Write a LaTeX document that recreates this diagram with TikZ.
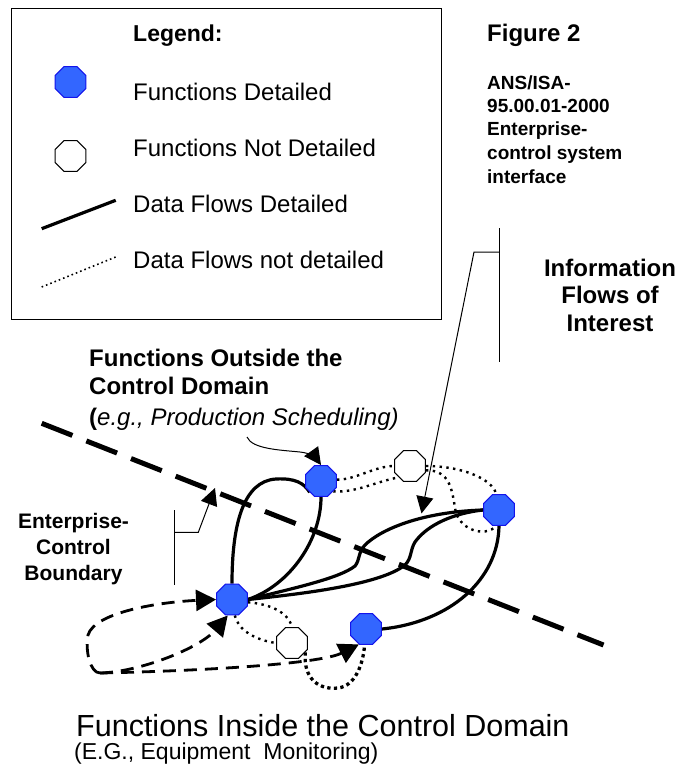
\documentclass[tikz,border=0pt]{standalone}
\usepackage{fontspec}
\setmainfont{Liberation Sans}
\usetikzlibrary{arrows.meta,shapes.geometric}
\pgfdeclarelayer{bg}
\pgfsetlayers{bg,main}
\definecolor{fnblue}{RGB}{51,102,255}
\definecolor{fnedge}{RGB}{20,20,235}
\newcommand\myfs[1]{\fontsize{#1}{#1}\selectfont}
\begin{document}
\begin{tikzpicture}[x=1pt,y=-1pt,
  fdet/.style={regular polygon, regular polygon sides=8, minimum size=33.5pt, inner sep=0pt, fill=fnblue, draw=fnedge, line width=1pt},
  fnot/.style={regular polygon, regular polygon sides=8, minimum size=33.5pt, inner sep=0pt, fill=white, draw=black, line width=1pt},
  solidflow/.style={line width=3.2pt},
  dotflow/.style={line width=2.4pt, dash pattern=on 2.4pt off 4.4pt},
  thickdot/.style={line width=3.3pt, dash pattern=on 3.3pt off 3.3pt},
  dashflow/.style={line width=2.8pt, dash pattern=on 13pt off 8pt},
  boundary/.style={line width=5pt, dash pattern=on 33pt off 15pt},
  pointer/.style={line width=1pt},
  headed/.style={-{Triangle[length=17pt,width=17pt]}},
  bighead/.style={-{Triangle[length=20pt,width=21pt]}},
  lbl/.style={inner sep=0pt, anchor=base west},
  clbl/.style={inner sep=0pt, anchor=base}
]
\useasboundingbox (0,0) rectangle (691,772);

% ---------- legend ----------
\node[draw, line width=1.3pt, minimum width=430pt, minimum height=311pt, anchor=north west, inner sep=0pt] (legbox) at (11,8) {};
\node[lbl, font=\bfseries\myfs{23}] (legtitle) at (133,41) {Legend:};
\node[fdet] (lgdet) at (70.5,82) {};
\node[lbl, font=\myfs{24}] (lgdett) at (133,100) {Functions Detailed};
\node[fnot] (lgnot) at (70.5,156) {};
\node[lbl, font=\myfs{24}] (lgnott) at (133,156) {Functions Not Detailed};
\coordinate (ls1) at (41.7,228.7);
\coordinate (ls2) at (115.7,200.3);
\draw[solidflow] (ls1) -- (ls2);
\node[lbl, font=\myfs{24}] (lgsolt) at (133,212.7) {Data Flows Detailed};
\coordinate (ld1) at (41.7,287);
\coordinate (ld2) at (115.7,257);
\draw[line width=1.6pt, dash pattern=on 1.6pt off 3pt] (ld1) -- (ld2);
\node[lbl, font=\myfs{24}] (lgdott) at (133,268.3) {Data Flows not detailed};

% ---------- figure caption ----------
\node[lbl, font=\bfseries\myfs{24}] (fig) at (487,41.7) {Figure 2};
\node[lbl, font=\bfseries\myfs{19}] (ans1) at (487,89) {ANS/ISA-};
\node[lbl, font=\bfseries\myfs{19}] (ans2) at (487,112.3) {95.00.01-2000};
\node[lbl, font=\bfseries\myfs{19}] (ans3) at (487,135.7) {Enterprise-};
\node[lbl, font=\bfseries\myfs{19}] (ans4) at (487,159) {control system};
\node[lbl, font=\bfseries\myfs{19}] (ans5) at (487,183.3) {interface};

% ---------- labels ----------
\node[clbl, font=\bfseries\myfs{24}] (info1) at (610,276.7) {Information};
\node[clbl, font=\bfseries\myfs{24}] (info2) at (610,303.3) {Flows of};
\node[clbl, font=\bfseries\myfs{24}] (info3) at (610,331.7) {Interest};

\node[lbl, font=\bfseries\myfs{24}] (out1) at (89,366) {Functions Outside the};
\node[lbl, font=\bfseries\myfs{24}] (out2) at (89,394) {Control Domain};
\node[lbl, font=\myfs{24}] (out3) at (89,425) {{\bfseries(}\itshape e.g., Production Scheduling)};

\node[clbl, font=\bfseries\myfs{21}] (ecb1) at (73.5,528) {Enterprise-};
\node[clbl, font=\bfseries\myfs{21}] (ecb2) at (73.5,554) {Control};
\node[clbl, font=\bfseries\myfs{21}] (ecb3) at (73.5,580) {Boundary};

\node[lbl, font=\myfs{30.5}] (in1) at (76,736) {Functions Inside the Control Domain};
\node[lbl, font=\myfs{23}] (in2) at (74,759) {(E.G., Equipment\ \ Monitoring)};

% ---------- function nodes ----------
\node[fdet] (n1) at (321,481) {};
\node[fdet] (n2) at (232,599.5) {};
\node[fdet] (n3) at (499,510) {};
\node[fdet] (n4) at (366,629) {};
\node[fnot] (w1) at (410,466) {};
\node[fnot] (w2) at (292,643) {};

% ---------- free coordinates ----------
\coordinate (bA) at (41.7,423.3);
\coordinate (bB) at (603.5,645);
\coordinate (corner) at (100,673);
\coordinate (pp) at (247,437);
\coordinate (ebtop) at (174.3,510);
\coordinate (ebbot) at (174.3,585);
\coordinate (ebknee) at (198.3,532.3);
\coordinate (ebjoin) at (174.3,532.3);
\coordinate (ebtip) at (215,488);
\coordinate (iftop) at (499,228);
\coordinate (ifbot) at (499,362);
\coordinate (ifjoin) at (499,252);
\coordinate (ifknee) at (474,252);
\coordinate (iftip) at (421.5,513.5);

\begin{pgfonlayer}{bg}
% boundary
\draw[boundary] (bA) -- (bB);

% solid flows
\draw[solidflow] (n2.north) .. controls (232,525) and (243,481) .. (276,479)
   .. controls (295,478) and (304,483) .. (n1.225);
\draw[solidflow] (n1.south) .. controls (321,540) and (290,585) .. (n2.east);
\draw[solidflow] (n2.east) .. controls (295,588) and (340,578) .. (355,566)
   .. controls (360,560) and (358,552) .. (365,545)
   .. controls (380,530) and (420,512) .. (n3.west);
\draw[solidflow] (n2.east) .. controls (300,594) and (380,585) .. (405,565)
   .. controls (412,558) and (410,550) .. (415,542)
   .. controls (428,524) and (455,513) .. (n3.west);
\draw[solidflow] (n3.south) .. controls (498,580) and (450,622) .. (n4.east);

% dotted flows
\draw[dotflow] (n1.5) .. controls (355,480) and (375,466) .. (w1.west);
\draw[dotflow] (n1.-40) .. controls (355,493) and (375,482) .. (w1.-135);
\draw[dotflow] (w1.east) .. controls (460,466) and (492,478) .. (n3.100);
\draw[dotflow] (w1.-15) .. controls (450,470) and (452,490) .. (455,508)
   .. controls (458,530) and (485,538) .. (n3.-100);
\draw[dotflow] (n2.-10) .. controls (270,604) and (288,612) .. (w2.north);
\draw[dotflow] (n2.-80) .. controls (238,630) and (255,640) .. (w2.west);
\draw[thickdot] (w2.-35) .. controls (303,680) and (320,690) .. (338,688)
   .. controls (355,686) and (363,665) .. (n4.-95);

% dashed flows
\draw[dashflow, bighead] (corner) .. controls (90,673) and (85,650) .. (88,635)
   .. controls (95,612) and (160,602) .. (n2.west);
\draw[dashflow, bighead] (corner) .. controls (140,672) and (200,648) .. (n2.-105);
\draw[dashflow, bighead] (corner) .. controls (200,671) and (320,664) .. (n4.-115);

% pointers
\draw[pointer, headed] (pp) .. controls (252,449) and (280,450) .. (300,452)
   .. controls (310,453) and (316,458) .. (n1.north);
\draw[pointer] (ebtop) -- (ebbot);
\draw[pointer, headed] (ebjoin) -- (ebknee) -- (ebtip);
\draw[pointer] (iftop) -- (ifbot);
\draw[pointer, headed] (ifjoin) -- (ifknee) -- (iftip);
\end{pgfonlayer}
\end{tikzpicture}
\end{document}
